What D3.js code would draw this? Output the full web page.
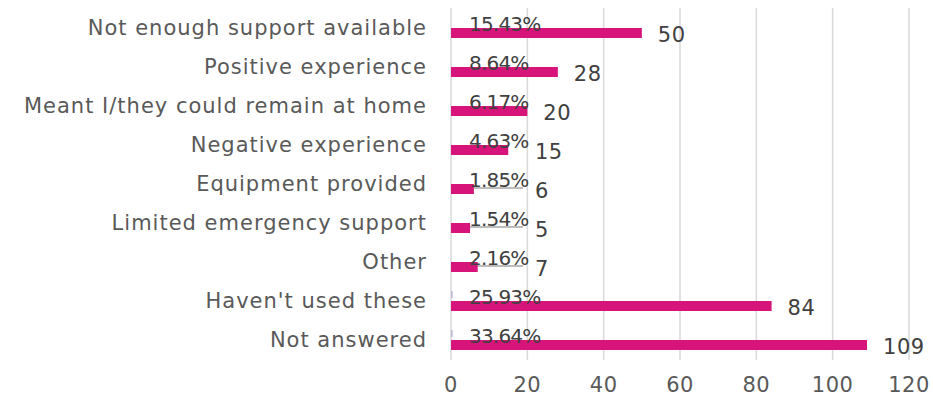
<!DOCTYPE html>
<html lang="en">
<head>
<meta charset="UTF-8">
<title>Chart</title>
<script src="https://d3js.org/d3.v7.min.js"></script>
<style>
  body { margin: 0; background: #fff; }
  text { font-family: "DejaVu Sans", sans-serif; }
</style>
</head>
<body>
<div id="chart"></div>
<script>
// categories, top to bottom
const categories = [
  "Not enough support available",
  "Positive experience",
  "Meant I/they could remain at home",
  "Negative experience",
  "Equipment provided",
  "Limited emergency support",
  "Other",
  "Haven't used these",
  "Not answered"
];
const counts = [50, 28, 20, 15, 6, 5, 7, 84, 109];
const percents = ["15.43%", "8.64%", "6.17%", "4.63%", "1.85%", "1.54%", "2.16%", "25.93%", "33.64%"];
const ticks = [0, 20, 40, 60, 80, 100, 120];

const width = 933, height = 403;
const svg = d3.select("#chart").append("svg")
  .attr("width", width)
  .attr("height", height);

const x = d3.scaleLinear().domain([0, 120]).range([451, 909]);
const y = d3.scaleBand().domain(categories).range([8.5, 359.5]);
const mid = d => y(d) + y.bandwidth() / 2;

// gridlines
svg.append("g").selectAll("line")
  .data(ticks)
  .join("line")
    .attr("x1", d => x(d)).attr("x2", d => x(d))
    .attr("y1", 8).attr("y2", 360)
    .attr("stroke", "#d9d9d9")
    .attr("stroke-width", 1.5);

// tick labels
svg.append("g").selectAll("text")
  .data(ticks)
  .join("text")
    .attr("x", d => x(d))
    .attr("y", 385)
    .attr("text-anchor", "middle")
    .attr("dominant-baseline", "central")
    .attr("font-size", 21)
    .attr("letter-spacing", 0.5)
    .attr("fill", "#595959")
    .text(d => d);

// category labels
svg.append("g").selectAll("text")
  .data(categories)
  .join("text")
    .attr("x", 427)
    .attr("y", d => mid(d))
    .attr("text-anchor", "end")
    .attr("dominant-baseline", "central")
    .attr("font-size", 21)
    .attr("letter-spacing", 1)
    .attr("fill", "#595959")
    .text(d => d);

const rows = categories.map((c, i) => ({ c, v: counts[i], p: percents[i] }));
const leaderEnd = x(0) + 72;

// leader lines for small bars
svg.append("g").selectAll("line")
  .data(rows.filter(d => d.v < 10))
  .join("line")
    .attr("x1", d => x(d.v)).attr("x2", leaderEnd)
    .attr("y1", d => mid(d.c) + 4).attr("y2", d => mid(d.c) + 4)
    .attr("stroke", "#a6a6a6")
    .attr("stroke-width", 1.5);

// tiny stubs of the percent series
svg.append("g").selectAll("line")
  .data(rows.slice(7))
  .join("line")
    .attr("x1", x(0) + 1).attr("x2", x(0) + 1)
    .attr("y1", d => mid(d.c) - 10).attr("y2", d => mid(d.c) - 3)
    .attr("stroke", "#9b9bc8")
    .attr("stroke-width", 1);

// bars
svg.append("g").selectAll("rect")
  .data(rows)
  .join("rect")
    .attr("x", x(0))
    .attr("y", d => mid(d.c))
    .attr("width", d => x(d.v) - x(0))
    .attr("height", 10)
    .attr("fill", "#d6147a");

// percent labels
svg.append("g").selectAll("text")
  .data(rows)
  .join("text")
    .attr("x", x(0) + 18)
    .attr("y", d => mid(d.c) - 4)
    .attr("dominant-baseline", "central")
    .attr("font-size", 20)
    .attr("letter-spacing", -0.8)
    .attr("fill", "#404040")
    .text(d => d.p);

// value labels
svg.append("g").selectAll("text")
  .data(rows)
  .join("text")
    .attr("x", d => Math.max(x(d.v) + 16, x(0) + 84))
    .attr("y", d => mid(d.c) + 7)
    .attr("dominant-baseline", "central")
    .attr("font-size", 21)
    .attr("letter-spacing", 0.5)
    .attr("fill", "#404040")
    .text(d => d.v);
</script>
</body>
</html>
